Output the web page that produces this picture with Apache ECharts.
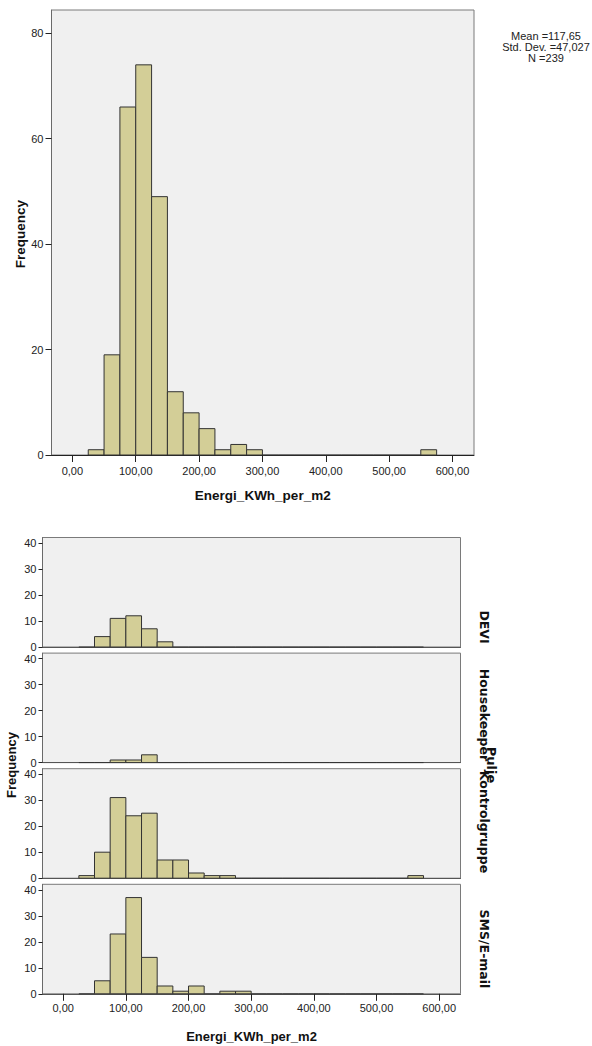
<!DOCTYPE html>
<html>
<head>
<meta charset="utf-8">
<script src="https://cdn.jsdelivr.net/npm/echarts@6/dist/echarts.min.js"></script>
<style>
html,body{margin:0;padding:0;background:#fff;}
#chart{width:592px;height:1046px;}
</style>
</head>
<body>
<div id="chart"></div>
<script>
// ---- data ----
const binStarts = [25,50,75,100,125,150,175,200,225,250,275,300,325,350,375,400,425,450,475,500,525,550];
const binWidth = 25;
const totalCounts   = [1,19,66,74,49,12,8,5,1,2,1,0,0,0,0,0,0,0,0,0,0,1];
const deviCounts    = [0,4,11,12,7,2,0,0,0,0,0,0,0,0,0,0,0,0,0,0,0,0];
const houseCounts   = [0,0,1,1,3,0,0,0,0,0,0,0,0,0,0,0,0,0,0,0,0,0];
const kontrolCounts = [1,10,31,24,25,7,7,2,1,1,0,0,0,0,0,0,0,0,0,0,0,1];
const smsCounts     = [0,5,23,37,14,3,1,3,0,1,1,0,0,0,0,0,0,0,0,0,0,0];
const groupNames = ['DEVI','Housekeeper','Kontrolgruppe','SMS/E-mail'];
const xTicks = [0,100,200,300,400,500,600];
const yTicksTop = [0,20,40,60,80];
const yTicksPanel = [0,10,20,30,40];
const statsLines = ['Mean =117,65','Std. Dev. =47,027','N =239'];
const xTitle = 'Energi_KWh_per_m2';
const yTitle = 'Frequency';
const panelTitle = 'Pulje';

const chart = echarts.init(document.getElementById('chart'), null, {renderer:'svg'});

const FILL = '#d3ce97', EDGE = '#333333';
function toData(counts){ return binStarts.map((s,i)=>[s, s+binWidth, counts[i]]); }
function renderItem(params, api){
  const x0 = api.value(0), x1 = api.value(1), c = api.value(2);
  const p0 = api.coord([x0, c]);
  const p1 = api.coord([x1, 0]);
  if (c === 0) {
    return {type:'line', shape:{x1:p0[0], y1:p1[1], x2:p1[0], y2:p1[1]}, style:{stroke:EDGE, lineWidth:1}};
  }
  return {type:'rect', shape:{x:p0[0], y:p0[1], width:p1[0]-p0[0], height:p1[1]-p0[1]},
          style:{fill:FILL, stroke:EDGE, lineWidth:1}};
}
const fmt = v => v.toFixed(2).replace('.', ',');
const labelFont = {fontFamily:'Liberation Sans', fontSize:11, color:'#222'};

const grids = [
  {left:51.5, top:10, width:422.5, height:445, show:true, backgroundColor:'#f0f0f0', borderColor:'#7a7a7a', borderWidth:1}
];
const panelTop0 = 537.5, panelStep = 115.6, panelH = 109.5;
for (let i=0;i<4;i++){
  grids.push({left:42.5, top:panelTop0+i*panelStep, width:418, height:panelH, show:true, backgroundColor:'#f0f0f0', borderColor:'#7a7a7a', borderWidth:1});
}

const xAxes = [], yAxes = [];
xAxes.push({type:'value', gridIndex:0, min:-33, max:634,
  axisLine:{show:true, onZero:false, lineStyle:{color:'#222', width:1}},
  axisTick:{show:true, customValues:xTicks, length:7, lineStyle:{color:'#222'}},
  axisLabel:{show:true, customValues:xTicks, formatter:fmt, margin:10, ...labelFont},
  splitLine:{show:false},
  name:xTitle, nameLocation:'middle', nameGap:33,
  nameTextStyle:{fontFamily:'Liberation Sans', fontWeight:'bold', fontSize:13.5, color:'#111'}
});
yAxes.push({type:'value', gridIndex:0, min:0, max:84.4,
  axisLine:{show:true, onZero:false, lineStyle:{color:'#6a6a6a', width:1}},
  axisTick:{show:true, customValues:yTicksTop, length:6, lineStyle:{color:'#222'}},
  axisLabel:{show:true, customValues:yTicksTop, margin:8, ...labelFont},
  splitLine:{show:false}
});
for (let i=0;i<4;i++){
  const last = i===3;
  xAxes.push({type:'value', gridIndex:i+1, min:-33, max:634,
    axisLine:{show:true, onZero:false, lineStyle:{color:'#555', width:1}},
    axisTick:{show:last, customValues:xTicks, length:7, lineStyle:{color:'#222'}},
    axisLabel:{show:last, customValues:xTicks, formatter:fmt, margin:9, ...labelFont},
    splitLine:{show:false},
    name: last ? xTitle : '', nameLocation:'middle', nameGap:36,
    nameTextStyle:{fontFamily:'Liberation Sans', fontWeight:'bold', fontSize:13, color:'#111'}
  });
  yAxes.push({type:'value', gridIndex:i+1, min:0, max:42.1,
    axisLine:{show:true, onZero:false, lineStyle:{color:'#6a6a6a', width:1}},
    axisTick:{show:true, customValues:yTicksPanel, length:4, lineStyle:{color:'#222'}},
    axisLabel:{show:true, customValues:yTicksPanel, margin:6, ...labelFont},
    splitLine:{show:false}
  });
}

const allCounts = [totalCounts, deviCounts, houseCounts, kontrolCounts, smsCounts];
const series = allCounts.map((c,i)=>({
  type:'custom', xAxisIndex:i, yAxisIndex:i, renderItem, data:toData(c),
  encode:{x:[0,1], y:2}, silent:true, clip:false
}));

const stripY = [627, 715, 822, 949];
const graphic = [
  {type:'text', x:20, y:234, rotation:Math.PI/2, style:{text:yTitle, textAlign:'center', textVerticalAlign:'middle', font:'bold 13.5px "Liberation Sans"', fill:'#111'}},
  {type:'text', x:11, y:765, rotation:Math.PI/2, style:{text:yTitle, textAlign:'center', textVerticalAlign:'middle', font:'bold 13px "Liberation Sans"', fill:'#111'}},
  {type:'text', x:491, y:765, rotation:-Math.PI/2, style:{text:panelTitle, textAlign:'center', textVerticalAlign:'middle', font:'bold 13px "DejaVu Sans"', fill:'#111'}}
];
statsLines.forEach((t,i)=>graphic.push({type:'text', x:546, y:36+i*11, style:{text:t, textAlign:'center', textVerticalAlign:'middle', font:'11px "Liberation Sans"', fill:'#222'}}));
groupNames.forEach((t,i)=>graphic.push({type:'text', x:484, y:stripY[i], rotation:-Math.PI/2, style:{text:t, textAlign:'center', textVerticalAlign:'middle', font:'bold 12.5px "DejaVu Sans"', fill:'#111'}}));

chart.setOption({
  animation:false,
  backgroundColor:'#ffffff',
  grid:grids, xAxis:xAxes, yAxis:yAxes, series, graphic
});
</script>
</body>
</html>
